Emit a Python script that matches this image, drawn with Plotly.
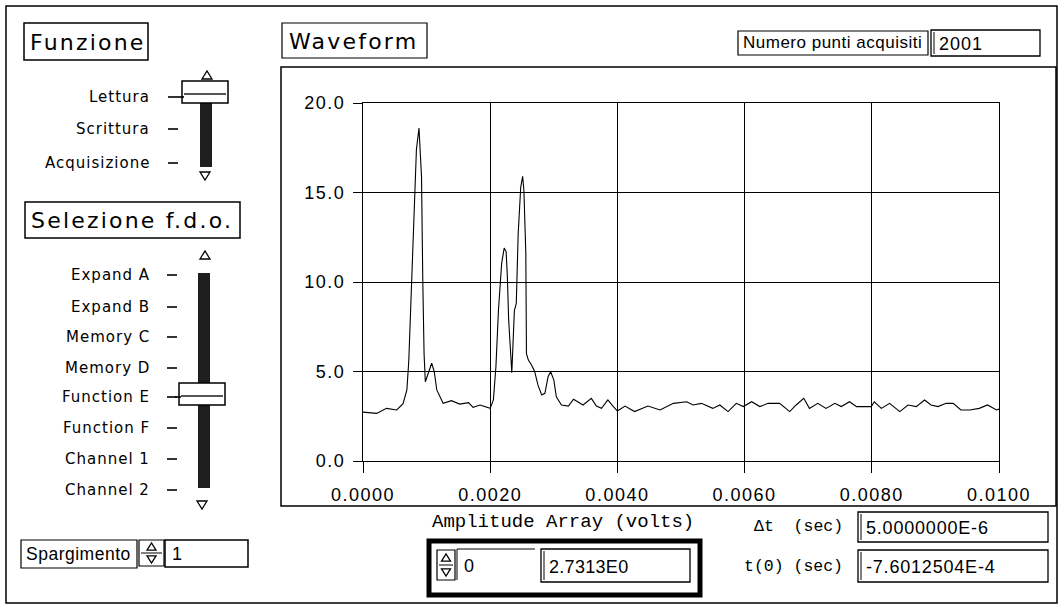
import plotly.graph_objects as go

W, H = 1060, 613

# Waveform samples (time in s, amplitude in V)
t_s = [0.0, 0.000215, 0.00037, 0.00053, 0.00063, 0.00069, 0.00072, 0.00075, 0.00079, 0.00084,
       0.00088, 0.00092, 0.00094, 0.00096, 0.00098, 0.00103, 0.00108, 0.00112, 0.00116, 0.00126,
       0.00139, 0.00152, 0.00166, 0.00173, 0.00184, 0.00200, 0.00205, 0.00209, 0.00213, 0.00218,
       0.00222, 0.00225, 0.00227, 0.00229, 0.00234, 0.00238, 0.00241, 0.00244, 0.00248, 0.00251,
       0.00253, 0.00256, 0.00257, 0.00260, 0.00265, 0.00270, 0.00275, 0.00281, 0.00286, 0.00291,
       0.00295, 0.00300, 0.00304, 0.00312, 0.00323, 0.00331, 0.00338, 0.00346, 0.00359, 0.00367,
       0.00375, 0.00385, 0.00393, 0.00400, 0.00412, 0.00427, 0.00448, 0.00467, 0.00488, 0.00509,
       0.00519, 0.00532, 0.00550, 0.00561, 0.00574, 0.00587, 0.00598, 0.00611, 0.00624, 0.00637,
       0.00655, 0.00671, 0.00681, 0.00693, 0.00702, 0.00715, 0.00728, 0.00742, 0.00752, 0.00765,
       0.00776, 0.00799, 0.00804, 0.00815, 0.00828, 0.00844, 0.00857, 0.00870, 0.00883, 0.00893,
       0.00904, 0.00917, 0.00928, 0.00940, 0.00954, 0.00969, 0.00982, 0.00996, 0.01000]
amp_v = [2.73, 2.66, 2.94, 2.85, 3.20, 3.97, 5.60, 8.80, 13.1, 17.4,
         18.6, 15.9, 10.1, 6.0, 4.43, 5.00, 5.46, 5.00, 3.97, 3.22,
         3.37, 3.18, 3.26, 3.00, 3.13, 2.94, 3.41, 5.27, 8.44, 11.04,
         11.9, 11.7, 10.3, 7.9, 4.93, 8.4, 8.8, 12.7, 15.3, 15.9,
         15.1, 11.6, 6.0, 5.64, 5.36, 4.99, 4.25, 3.69, 3.78, 4.71,
         4.99, 4.53, 3.59, 3.13, 3.07, 3.45, 3.31, 3.13, 3.50, 3.07,
         2.94, 3.41, 3.07, 2.79, 3.07, 2.76, 3.07, 2.85, 3.22, 3.31,
         3.13, 3.22, 2.94, 3.13, 2.76, 3.22, 3.04, 3.31, 3.04, 3.22,
         3.22, 2.76, 3.13, 3.50, 2.94, 3.22, 2.94, 3.22, 3.04, 3.31,
         3.04, 3.04, 3.31, 2.94, 3.22, 2.76, 3.13, 3.04, 3.41, 3.13,
         3.04, 3.22, 3.22, 2.85, 2.85, 2.94, 3.13, 2.85, 2.90]

x_ticks = [0.0, 0.002, 0.004, 0.006, 0.008, 0.010]
x_tick_labels = ["0.0000", "0.0020", "0.0040", "0.0060", "0.0080", "0.0100"]
y_ticks = [0, 5, 10, 15, 20]
y_tick_labels = ["0.0", "5.0", "10.0", "15.0", "20.0"]

funzione_items = ["Lettura", "Scrittura", "Acquisizione"]
selezione_items = ["Expand A", "Expand B", "Memory C", "Memory D",
                   "Function E", "Function F", "Channel 1", "Channel 2"]

SANS = "Liberation Sans"
UI = "DejaVu Sans"
MONO = "Liberation Mono"


def fx(x):
    return x / W


def fy(y):
    return 1 - y / H


def spaced(s, ls):
    return f'<span style="letter-spacing:{ls}px">{s}</span>'


shapes = []
annotations = []


def rect(x0, y0, x1, y1, width=1, fill="rgba(0,0,0,0)", color="black"):
    shapes.append(dict(type="rect", xref="paper", yref="paper",
                       x0=fx(x0), y0=fy(y1), x1=fx(x1), y1=fy(y0),
                       line=dict(color=color, width=width), fillcolor=fill, layer="above"))


def line(x0, y0, x1, y1, width=1, color="black"):
    shapes.append(dict(type="line", xref="paper", yref="paper",
                       x0=fx(x0), y0=fy(y0), x1=fx(x1), y1=fy(y1),
                       line=dict(color=color, width=width), layer="above"))


def tri(cx, cy, up=True, s=5):
    if up:
        pts = [(cx - s, cy + s * 0.8), (cx + s, cy + s * 0.8), (cx, cy - s * 0.8)]
    else:
        pts = [(cx - s, cy - s * 0.8), (cx + s, cy - s * 0.8), (cx, cy + s * 0.8)]
    path = "M " + " L ".join(f"{fx(a)},{fy(b)}" for a, b in pts) + " Z"
    shapes.append(dict(type="path", xref="paper", yref="paper", path=path,
                       line=dict(color="black", width=1.3), fillcolor="white", layer="above"))


def text(x, y, s, size=14, family=UI, anchor="left", color="black", ls=0):
    label = spaced(s, ls) if ls else s
    annotations.append(dict(x=fx(x), y=fy(y), xref="paper", yref="paper", text=label,
                            showarrow=False, xanchor=anchor, yanchor="middle",
                            font=dict(family=family, size=size, color=color)))


def stepper(x0, y0, x1, y1):
    rect(x0, y0, x1, y1, width=1.2)
    cx = (x0 + x1) / 2
    mid = (y0 + y1) / 2
    line(x0 + 2, mid, x1 - 2, mid, width=1)
    tri(cx, (y0 + mid) / 2, up=True, s=4.5)
    tri(cx, (mid + y1) / 2, up=False, s=4.5)


def field(x0, y0, x1, y1, value, size=18, ls=0.8):
    rect(x0, y0, x1, y1, width=1.3)
    line(x0 + 3, y0 + 2, x0 + 3, y1 - 2, width=1)
    text(x0 + 6, (y0 + y1) / 2 + 1, value, size=size, family=SANS, ls=ls)


# Outer panel frame and the graph frame
rect(6, 6, 1057, 603, width=1.5)
rect(281, 67, 1056, 506, width=1.5)

# --- Funzione selector ---
rect(24, 23, 148, 60, width=1.5)
text(28, 42, "Funzione", size=22, family=UI, ls=2.2)
for lbl, yy in zip(funzione_items, [97, 129, 163]):
    text(152, yy, lbl, size=15, anchor="right", ls=1)
    line(168, yy, 178, yy, width=1.6)
rect(200, 103, 212, 167, width=0, fill="#1e1e1e")
tri(207, 75, up=True)
tri(205, 176, up=False)
rect(182, 81, 228, 103, width=1.5, fill="white")
line(184, 94, 226, 94, width=2, color="#555")
line(178, 97, 184, 97, width=1.6)

# --- Selezione f.d.o. selector ---
rect(25, 202, 240, 238, width=1.5)
text(29, 220, "Selezione f.d.o.", size=22, family=UI, ls=2.2)
sel_y = [275, 307, 337, 368, 397, 428, 459, 490]
for lbl, yy in zip(selezione_items, sel_y):
    text(152, yy, lbl, size=15, anchor="right", ls=1)
    line(167, yy, 177, yy, width=1.6)
rect(198, 273, 210, 488, width=0, fill="#1e1e1e")
tri(205, 255, up=True)
tri(202, 505, up=False)
rect(179, 383, 225, 405, width=1.5, fill="white")
line(181, 396, 223, 396, width=2, color="#555")
line(175, 397, 181, 397, width=1.6)

# --- Spargimento control ---
rect(21, 540, 137, 568, width=1.2)
text(24, 554, "Spargimento", size=17.5, family=SANS, ls=0.5)
stepper(139, 540, 164, 566)
rect(165, 540, 248, 567, width=1.5)
text(170, 554, "1", size=18, family=SANS)

# --- Waveform header and point count ---
rect(282, 23, 427, 58, width=1.2)
text(287, 41, "Waveform", size=22, family=UI, ls=2.2)
rect(738, 31, 928, 55, width=1.2)
text(741, 43, "Numero punti acquisiti", size=17, family=SANS, ls=0.5)
field(931, 30, 1040, 56, "2001", size=18, ls=1)

# --- Amplitude array, dt and t0 ---
text(430, 522, "Amplitude Array (volts)", size=19, family=MONO)
rect(429, 541, 700, 595, width=5)
stepper(437, 550, 455, 580)
line(457, 549, 535, 549, width=1)
line(457, 549, 457, 580, width=1)
text(462, 566, "0", size=18, family=SANS)
field(541, 549, 690, 582, "2.7313E0", size=18, ls=0.3)

text(752, 526, "\u0394t\u00a0\u00a0(sec)", size=16.5, family=MONO)
field(858, 512, 1048, 542, "5.0000000E-6")

text(742, 566, "t(0) (sec)", size=16.5, family=MONO)
field(858, 550, 1048, 582, "-7.6012504E-4")

fig = go.Figure(go.Scatter(x=t_s, y=amp_v, mode="lines",
                           line=dict(color="black", width=1.1), hoverinfo="skip"))

x_tick_text = [spaced(s, 1.5) for s in x_tick_labels]
y_tick_text = [spaced(s, 1.5) for s in y_tick_labels]

fig.update_layout(
    width=W, height=H, autosize=False,
    margin=dict(l=0, r=0, t=0, b=0, pad=0, autoexpand=False),
    paper_bgcolor="white", plot_bgcolor="white",
    showlegend=False,
    shapes=shapes, annotations=annotations,
    xaxis=dict(domain=[363 / W, 999 / W], range=[0, 0.01], automargin=False,
               tickvals=x_ticks, ticktext=x_tick_text,
               showgrid=True, gridcolor="black", gridwidth=1,
               showline=True, linecolor="black", linewidth=1, mirror=True,
               zeroline=False, ticks="outside", ticklen=11, tickcolor="black",
               ticklabelstandoff=6,
               tickfont=dict(family=SANS, size=18, color="black")),
    yaxis=dict(domain=[(H - 461) / H, (H - 103) / H], range=[0, 20], automargin=False,
               tickvals=y_ticks, ticktext=y_tick_text,
               showgrid=True, gridcolor="black", gridwidth=1,
               showline=True, linecolor="black", linewidth=1, mirror=True,
               zeroline=False, ticks="outside", ticklen=9, tickcolor="black",
               ticklabelstandoff=4,
               tickfont=dict(family=SANS, size=18, color="black")),
)

fig.write_html("out.html")
